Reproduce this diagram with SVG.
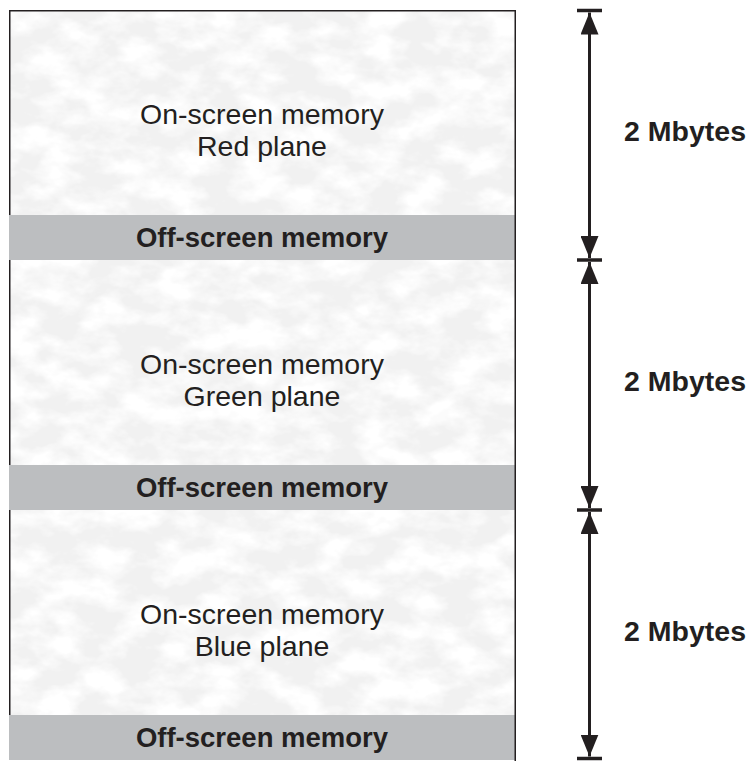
<svg xmlns="http://www.w3.org/2000/svg" width="748" height="761" viewBox="0 0 748 761">
  <defs>
    <!-- mottled paper texture for the on-screen areas -->
    <filter id="paper" x="0" y="0" width="100%" height="100%">
      <feTurbulence type="fractalNoise" baseFrequency="0.025 0.04" numOctaves="4" seed="7" result="noise"/>
      <feColorMatrix in="noise" type="matrix" values="0 0 0 0 1  0 0 0 0 1  0 0 0 0 1  -3 0 0 0 1.9" result="spots"/>
      <feComposite in="spots" in2="SourceGraphic" operator="in" result="clip"/>
      <feMerge>
        <feMergeNode in="SourceGraphic"/>
        <feMergeNode in="clip"/>
      </feMerge>
    </filter>
    <marker id="head" viewBox="0 0 22 18" refX="22" refY="9" markerWidth="22" markerHeight="18" markerUnits="userSpaceOnUse" orient="auto-start-reverse">
      <path d="M0,0 L22,9 L0,18 Z" fill="#231f20"/>
    </marker>
  </defs>
  <style>
    .onscreen { fill: #f1f1f1; filter: url(#paper); }
    .offscreen { fill: #bcbec0; }
    .edge { stroke: #231f20; stroke-width: 1.5; fill: none; }
    .label { font-family: "Liberation Sans", Arial, sans-serif; font-size: 28.5px; fill: #231f20; text-anchor: middle; }
    .bold { font-weight: bold; font-size: 27.5px; }
    .size { font-size: 28.5px; }
    .dim { stroke: #231f20; stroke-width: 3; fill: none; }
    .tick { stroke: #231f20; stroke-width: 3.5; }
  </style>

  <rect width="748" height="761" fill="#ffffff"/>

  <g id="red-plane">
    <rect class="onscreen" x="9" y="10" width="506" height="205"/>
    <text class="label" x="262" y="124">On-screen memory</text>
    <text class="label" x="262" y="156">Red plane</text>
  </g>
  <g id="offscreen-1">
    <rect class="offscreen" x="9" y="215" width="506" height="45"/>
    <text class="label bold" x="262" y="247">Off-screen memory</text>
  </g>

  <g id="green-plane">
    <rect class="onscreen" x="9" y="260" width="506" height="205"/>
    <text class="label" x="262" y="374">On-screen memory</text>
    <text class="label" x="262" y="406">Green plane</text>
  </g>
  <g id="offscreen-2">
    <rect class="offscreen" x="9" y="465" width="506" height="45"/>
    <text class="label bold" x="262" y="497">Off-screen memory</text>
  </g>

  <g id="blue-plane">
    <rect class="onscreen" x="9" y="510" width="506" height="205"/>
    <text class="label" x="262" y="624">On-screen memory</text>
    <text class="label" x="262" y="656">Blue plane</text>
  </g>
  <g id="offscreen-3">
    <rect class="offscreen" x="9" y="715" width="506" height="45"/>
    <text class="label bold" x="262" y="747">Off-screen memory</text>
  </g>

  <!-- outline of the memory stack -->
  <g id="outline">
    <path class="edge" d="M9.75,215 V10.75 H515.25 V761"/>
    <path class="edge" d="M9.75,260 V465 M9.75,510 V715"/>
  </g>

  <!-- dimension arrows, one per 2-Mbyte plane -->
  <g id="connectors">
    <line class="tick" x1="577" y1="10.5" x2="602" y2="10.5"/>
    <line class="tick" x1="577" y1="260" x2="602" y2="260"/>
    <line class="tick" x1="577" y1="510" x2="602" y2="510"/>
    <line class="tick" x1="577" y1="758.5" x2="602" y2="758.5"/>

    <line class="dim" x1="589.5" y1="12.5" x2="589.5" y2="258" marker-start="url(#head)" marker-end="url(#head)"/>
    <line class="dim" x1="589.5" y1="262" x2="589.5" y2="508" marker-start="url(#head)" marker-end="url(#head)"/>
    <line class="dim" x1="589.5" y1="512" x2="589.5" y2="756.5" marker-start="url(#head)" marker-end="url(#head)"/>
  </g>

  <g id="sizes">
    <text class="label bold size" x="685" y="141">2 Mbytes</text>
    <text class="label bold size" x="685" y="391">2 Mbytes</text>
    <text class="label bold size" x="685" y="641">2 Mbytes</text>
  </g>
</svg>
